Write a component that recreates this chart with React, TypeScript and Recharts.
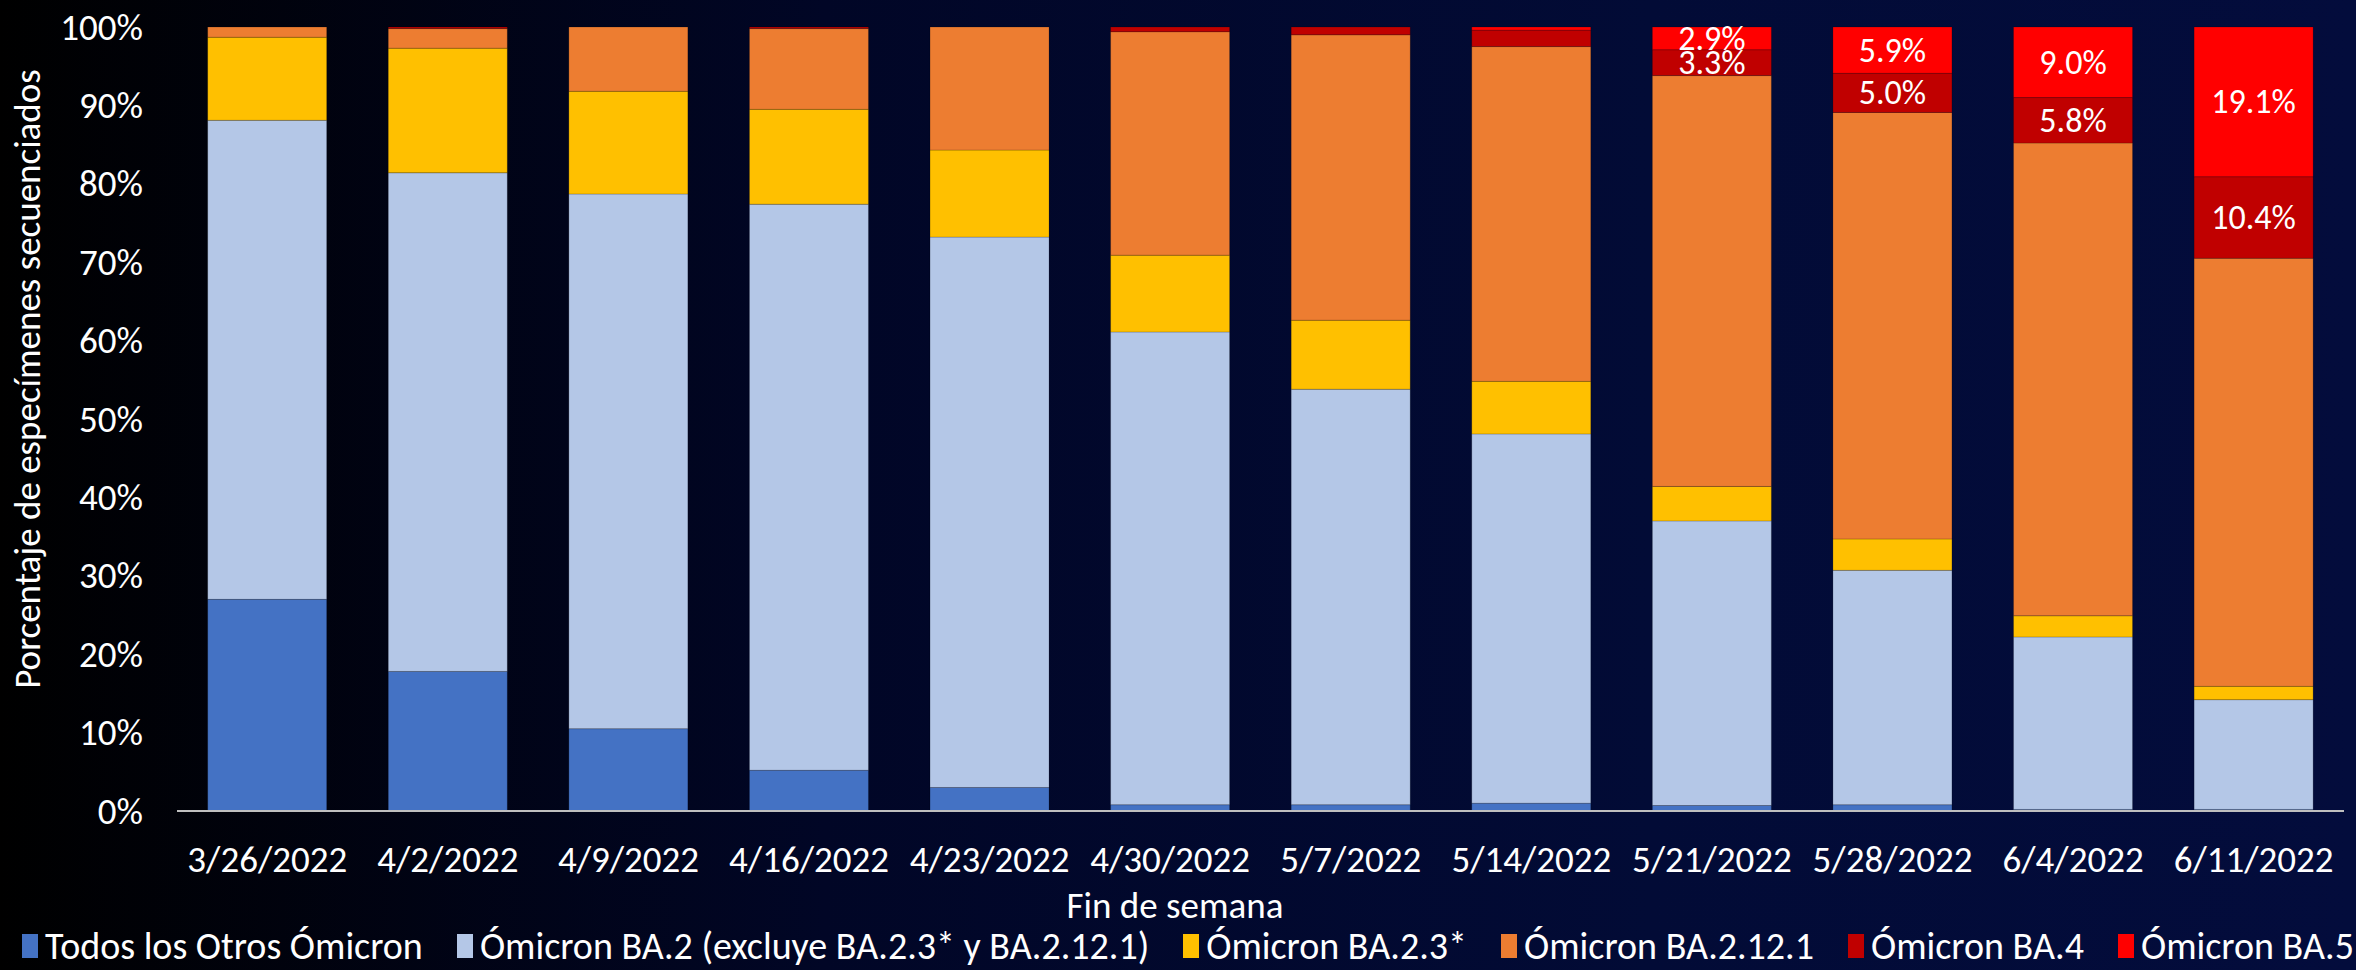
import React from "react";
import { Bar, BarChart, Label, LabelList, XAxis, YAxis } from "recharts";

const WEEKS = [
  "3/26/2022", "4/2/2022", "4/9/2022", "4/16/2022", "4/23/2022", "4/30/2022",
  "5/7/2022", "5/14/2022", "5/21/2022", "5/28/2022", "6/4/2022", "6/11/2022",
];
const OTHER = [27.0, 17.8, 10.5, 5.2, 3.0, 0.8, 0.8, 1.0, 0.7, 0.8, 0.2, 0.2];
const BA2 = [61.1, 63.6, 68.2, 72.2, 70.2, 60.3, 53.0, 47.1, 36.3, 29.9, 22.0, 14.0];
const BA23 = [10.6, 15.9, 13.1, 12.1, 11.1, 9.8, 8.8, 6.7, 4.4, 4.0, 2.7, 1.7];
const BA2121 = [1.3, 2.5, 8.2, 10.3, 15.7, 28.5, 36.4, 42.7, 52.4, 54.4, 60.3, 54.6];
const BA4 = [0, 0.2, 0, 0.2, 0, 0.6, 1.0, 2.1, 3.3, 5.0, 5.8, 10.4];
const BA5 = [0, 0, 0, 0, 0, 0, 0, 0.4, 2.9, 5.9, 9.0, 19.1];
const Y_TICKS = [0, 10, 20, 30, 40, 50, 60, 70, 80, 90, 100];

const SERIES = [
  { key: "other", name: "Todos los Otros Ómicron", color: "#4472C4", values: OTHER },
  { key: "ba2", name: "Ómicron BA.2 (excluye BA.2.3* y BA.2.12.1)", color: "#B4C7E7", values: BA2 },
  { key: "ba23", name: "Ómicron BA.2.3*", color: "#FFC000", values: BA23 },
  { key: "ba2121", name: "Ómicron BA.2.12.1", color: "#ED7D31", values: BA2121 },
  { key: "ba4", name: "Ómicron BA.4", color: "#C00000", values: BA4 },
  { key: "ba5", name: "Ómicron BA.5", color: "#FF0000", values: BA5 },
];

const FONT = "Calibri, Carlito, 'Open Sans', sans-serif";
const FS = 37;

const data = WEEKS.map((week, i) => {
  const row: Record<string, string | number> = { week };
  SERIES.forEach((s) => (row[s.key] = s.values[i]));
  return row;
});

/** White % label in the middle of a segment, only for the larger BA.4/BA.5 pieces. */
function SegmentLabel(props: any) {
  const { x, y, width, height, value } = props;
  if (value == null || value < 2.5) return null;
  return (
    <text
      x={x + width / 2}
      y={y + height / 2}
      textAnchor="middle"
      dominantBaseline="central"
      fill="#fff"
      fontSize={34}
      fontFamily={FONT}
    >
      {`${Number(value).toFixed(1)}%`}
    </text>
  );
}

function XTick({ x, y, payload }: any) {
  return (
    <text x={x} y={y + 48} textAnchor="middle" dominantBaseline="central" fill="#fff" fontSize={FS} fontFamily={FONT}>
      {payload.value}
    </text>
  );
}

function YTick({ x, y, payload }: any) {
  return (
    <text x={x} y={y} textAnchor="end" dominantBaseline="central" fill="#fff" fontSize={FS} fontFamily={FONT}>
      {`${payload.value}%`}
    </text>
  );
}

export default function App() {
  return (
    <div
      style={{
        position: "absolute",
        left: 0,
        top: 0,
        width: 2356,
        height: 970,
        background: "linear-gradient(to right, #000000 0%, #010626 35%, #020b36 70%, #030c3c 100%)",
        fontFamily: FONT,
        overflow: "hidden",
      }}
    >
      <BarChart
        width={2356}
        height={970}
        data={data}
        margin={{ top: 27, right: 12, left: 0, bottom: 0 }}
        barCategoryGap="17%"
      >
        <XAxis
          dataKey="week"
          height={159}
          tickLine={false}
          tickSize={0}
          tickMargin={0}
          axisLine={{ stroke: "#bfbfbf", strokeWidth: 2 }}
          tick={<XTick />}
          interval={0}
        >
          <Label
            content={({ viewBox }: any) => (
              <text
                x={1175}
                y={viewBox.y + 94}
                textAnchor="middle"
                dominantBaseline="central"
                fill="#fff"
                fontSize={FS}
                fontFamily={FONT}
              >
                Fin de semana
              </text>
            )}
          />
        </XAxis>
        <YAxis
          width={177}
          domain={[0, 100]}
          ticks={Y_TICKS}
          axisLine={false}
          tickLine={false}
          tickSize={0}
          tickMargin={34}
          tick={<YTick />}
          interval={0}
        >
          <Label
            content={() => (
              <text
                x={27}
                y={379}
                transform="rotate(-90 27 379)"
                textAnchor="middle"
                dominantBaseline="central"
                fill="#fff"
                fontSize={FS}
                fontFamily={FONT}
              >
                Porcentaje de especímenes secuenciados
              </text>
            )}
          />
        </YAxis>
        {SERIES.map((s) => (
          <Bar
            key={s.key}
            dataKey={s.key}
            name={s.name}
            stackId="a"
            fill={s.color}
            stroke="rgba(0,0,0,0.18)"
            strokeWidth={1}
            isAnimationActive={false}
          >
            {(s.key === "ba4" || s.key === "ba5") && (
              <LabelList dataKey={s.key} content={<SegmentLabel />} />
            )}
          </Bar>
        ))}
      </BarChart>
      <div
        style={{
          position: "absolute",
          left: 22,
          right: 2,
          top: 925,
          height: 42,
          display: "flex",
          justifyContent: "space-between",
          alignItems: "center",
          color: "#fff",
          fontSize: FS + 1,
          lineHeight: 1,
          whiteSpace: "nowrap",
        }}
      >
        {SERIES.map((s) => (
          <div key={s.key} style={{ display: "flex", alignItems: "center" }}>
            <span style={{ display: "inline-block", width: 16, height: 24, background: s.color, marginRight: 7 }} />
            <span>{s.name}</span>
          </div>
        ))}
      </div>
    </div>
  );
}
